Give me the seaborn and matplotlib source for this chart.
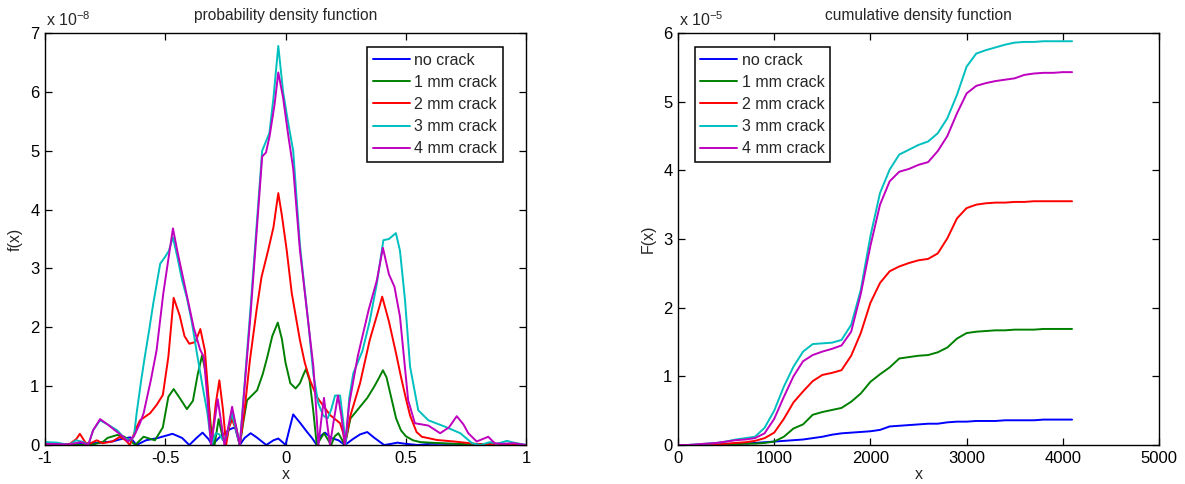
import pandas as pd
import matplotlib
matplotlib.use('Agg')
import matplotlib.pyplot as plt
import seaborn as sns

# Series names and MATLAB-like colours
labels = ['no crack', '1 mm crack', '2 mm crack', '3 mm crack', '4 mm crack']
colors = ['#0000ff', '#008000', '#ff0000', '#00bfbf', '#bf00bf']

# %% Probability density function (values in units of 1e-8)
no_crack_x = [-1, -0.9, -0.8, -0.72, -0.675, -0.645, -0.62, -0.58, -0.53, -0.47, -0.43, -0.4, -0.37, -0.345,
              -0.32, -0.305, -0.27, -0.23, -0.21, -0.19, -0.17, -0.145, -0.12, -0.08, -0.05, -0.03, -0.01, 0.0,
              0.015, 0.032, 0.06, 0.09, 0.11, 0.13, 0.145, 0.164, 0.19, 0.22, 0.247, 0.28, 0.31, 0.34, 0.37,
              0.41, 0.44, 0.465, 0.5, 0.55, 0.6, 0.7, 0.8, 0.9, 1.0]
no_crack_y = [0.02, 0.01, 0.03, 0.06, 0.11, 0.13, 0.0, 0.08, 0.12, 0.19, 0.12, 0.0, 0.12, 0.21,
              0.1, 0.0, 0.15, 0.27, 0.3, 0.0, 0.12, 0.2, 0.13, 0.0, 0.08, 0.11, 0.04, 0.0,
              0.25, 0.52, 0.38, 0.22, 0.12, 0.0, 0.15, 0.21, 0.12, 0.08, 0.0, 0.1, 0.18, 0.22, 0.12,
              0.0, 0.02, 0.04, 0.02, 0.0, 0.02, 0.02, 0.01, 0.02, 0.0]

crack1_x = [-1, -0.9, -0.85, -0.8, -0.76, -0.74, -0.7, -0.67, -0.647, -0.625, -0.59, -0.543, -0.51, -0.487,
            -0.465, -0.44, -0.41, -0.385, -0.365, -0.347, -0.33, -0.31, -0.295, -0.278, -0.265, -0.25, -0.235,
            -0.222, -0.205, -0.19, -0.175, -0.16, -0.118, -0.095, -0.076, -0.055, -0.032, -0.015, 0.0, 0.02,
            0.042, 0.06, 0.075, 0.085, 0.1, 0.115, 0.13, 0.145, 0.16, 0.175, 0.19, 0.205, 0.22, 0.247, 0.27,
            0.3, 0.34, 0.37, 0.39, 0.405, 0.42, 0.44, 0.46, 0.48, 0.5, 0.53, 0.56, 0.6, 0.7, 0.8, 0.9, 1.0]
crack1_y = [0.02, 0.01, 0.0, 0.01, 0.05, 0.12, 0.17, 0.14, 0.08, 0.0, 0.14, 0.08, 0.3, 0.82,
            0.95, 0.8, 0.61, 0.75, 1.2, 1.52, 1.2, 0.3, 0.0, 0.44, 0.2, 0.0, 0.3,
            0.56, 0.3, 0.0, 0.4, 0.76, 0.93, 1.2, 1.49, 1.85, 2.08, 1.8, 1.4, 1.05,
            0.96, 1.05, 1.2, 1.29, 1.1, 0.6, 0.0, 0.1, 0.2, 0.1, 0.0, 0.15, 0.2, 0.0, 0.45,
            0.6, 0.8, 1.0, 1.15, 1.27, 1.15, 0.8, 0.45, 0.25, 0.15, 0.08, 0.05, 0.04, 0.02, 0.01, 0.01, 0.0]

crack2_x = [-1, -0.9, -0.87, -0.855, -0.83, -0.81, -0.785, -0.76, -0.72, -0.688, -0.665, -0.647, -0.625,
            -0.605, -0.563, -0.536, -0.51, -0.487, -0.465, -0.44, -0.42, -0.4, -0.375, -0.354, -0.335, -0.32,
            -0.308, -0.29, -0.275, -0.26, -0.247, -0.235, -0.222, -0.205, -0.19, -0.17, -0.148, -0.12, -0.1,
            -0.072, -0.05, -0.03, -0.015, 0.005, 0.026, 0.06, 0.08, 0.102, 0.13, 0.16, 0.185, 0.227, 0.24,
            0.247, 0.27, 0.31, 0.35, 0.38, 0.402, 0.43, 0.46, 0.48, 0.5, 0.518, 0.545, 0.567, 0.63, 0.7,
            0.79, 0.85, 0.9, 1.0]
crack2_y = [0.02, 0.01, 0.1, 0.19, 0.03, 0.03, 0.08, 0.03, 0.06, 0.14, 0.08, 0.0, 0.25,
            0.42, 0.54, 0.68, 0.85, 1.5, 2.5, 2.2, 1.85, 1.72, 1.75, 1.97, 1.6, 0.8,
            0.0, 0.7, 1.1, 0.6, 0.0, 0.3, 0.43, 0.25, 0.0, 0.6, 1.44, 2.3, 2.85,
            3.31, 3.7, 4.28, 3.9, 3.31, 2.58, 1.78, 1.4, 1.1, 0.82, 0.65, 0.51, 0.37, 0.2,
            0.0, 0.5, 1.05, 1.78, 2.2, 2.52, 2.1, 1.55, 1.16, 0.8, 0.5, 0.22, 0.14, 0.085, 0.06,
            0.02, 0.01, 0.02, 0.0]

crack3_x = [-1, -0.95, -0.9, -0.87, -0.84, -0.82, -0.8, -0.771, -0.74, -0.7, -0.67, -0.645, -0.63, -0.619,
            -0.6, -0.585, -0.567, -0.55, -0.521, -0.5, -0.485, -0.468, -0.45, -0.43, -0.41, -0.39, -0.37,
            -0.345, -0.325, -0.308, -0.29, -0.275, -0.26, -0.245, -0.224, -0.205, -0.19, -0.146, -0.097,
            -0.067, -0.05, -0.03, -0.01, 0.01, 0.032, 0.06, 0.095, 0.116, 0.136, 0.157, 0.175, 0.19, 0.206,
            0.227, 0.24, 0.25, 0.265, 0.282, 0.32, 0.35, 0.38, 0.407, 0.43, 0.459, 0.476, 0.497, 0.518,
            0.552, 0.594, 0.664, 0.727, 0.776, 0.81, 0.85, 0.88, 0.92, 0.95, 1.0]
crack3_y = [0.05, 0.04, 0.0, 0.08, 0.05, 0.0, 0.25, 0.42, 0.35, 0.25, 0.12, 0.08, 0.15, 0.54,
            1.1, 1.5, 1.95, 2.4, 3.08, 3.2, 3.3, 3.53, 3.2, 2.8, 2.5, 2.1, 1.6,
            1.0, 0.55, 0.0, 0.2, 0.18, 0.08, 0.15, 0.55, 0.25, 0.0, 2.3, 5.0,
            5.3, 5.9, 6.78, 6.0, 5.5, 5.0, 3.4, 2.07, 1.2, 0.71, 0.5, 0.45, 0.6, 0.84,
            0.84, 0.4, 0.0, 0.8, 1.22, 1.6, 2.1, 2.75, 3.48, 3.5, 3.6, 3.3, 2.46, 1.33,
            0.59, 0.42, 0.31, 0.2, 0.03, 0.0, 0.05, 0.02, 0.07, 0.04, 0.0]

crack4_x = [-1, -0.9, -0.85, -0.82, -0.8, -0.771, -0.74, -0.7, -0.675, -0.655, -0.63, -0.605, -0.59, -0.56,
            -0.536, -0.508, -0.468, -0.45, -0.418, -0.382, -0.355, -0.34, -0.325, -0.31, -0.295, -0.282,
            -0.268, -0.254, -0.238, -0.222, -0.205, -0.19, -0.146, -0.097, -0.081, -0.066, -0.045, -0.03,
            -0.01, 0.01, 0.032, 0.06, 0.095, 0.116, 0.137, 0.148, 0.16, 0.172, 0.185, 0.2, 0.218, 0.232,
            0.247, 0.265, 0.3, 0.346, 0.38, 0.405, 0.43, 0.453, 0.476, 0.51, 0.538, 0.594, 0.643, 0.68,
            0.712, 0.74, 0.76, 0.795, 0.843, 0.87, 0.9, 0.95, 1.0]
crack4_y = [0.02, 0.01, 0.05, 0.0, 0.25, 0.44, 0.35, 0.22, 0.14, 0.06, 0.15, 0.37, 0.54, 1.1,
            1.61, 2.58, 3.68, 3.3, 2.69, 2.0, 1.62, 1.5, 0.8, 0.0, 0.4, 0.78,
            0.4, 0.0, 0.3, 0.65, 0.3, 0.0, 2.18, 4.9, 4.97, 5.25, 5.8, 6.33,
            5.9, 5.3, 4.7, 3.31, 2.07, 1.33, 0.0, 0.4, 0.8, 0.4, 0.0, 0.4, 0.84, 0.5,
            0.0, 0.7, 1.5, 2.3, 2.8, 3.35, 2.9, 2.69, 2.18, 0.76, 0.37, 0.33, 0.2, 0.3,
            0.49, 0.35, 0.2, 0.06, 0.14, 0.03, 0.02, 0.03, 0.0]

# %% Cumulative density function (values in units of 1e-5)
cdf_x = list(range(0, 4001, 100)) + [4096]
cdf_no_crack = [0, 0, 0, 0, 0.01, 0.01, 0.02, 0.02, 0.03, 0.04, 0.05, 0.06, 0.07, 0.08, 0.1, 0.12, 0.15,
                0.17, 0.18, 0.19, 0.2, 0.22, 0.27, 0.28, 0.29, 0.3, 0.31, 0.31, 0.33, 0.34, 0.34, 0.35,
                0.35, 0.35, 0.36, 0.36, 0.36, 0.36, 0.37, 0.37, 0.37, 0.37]
cdf_crack1 = [0, 0, 0, 0, 0.01, 0.01, 0.01, 0.02, 0.02, 0.03, 0.05, 0.12, 0.24, 0.3, 0.44, 0.48, 0.51,
              0.54, 0.63, 0.75, 0.92, 1.03, 1.13, 1.26, 1.28, 1.3, 1.31, 1.35, 1.42, 1.55, 1.63, 1.65,
              1.66, 1.67, 1.67, 1.68, 1.68, 1.68, 1.69, 1.69, 1.69, 1.69]
cdf_crack2 = [0, 0, 0, 0.01, 0.01, 0.02, 0.03, 0.04, 0.06, 0.1, 0.18, 0.38, 0.62, 0.78, 0.93, 1.02, 1.05,
              1.09, 1.3, 1.63, 2.07, 2.36, 2.53, 2.6, 2.65, 2.69, 2.71, 2.79, 3.01, 3.3, 3.45, 3.5,
              3.52, 3.53, 3.53, 3.54, 3.54, 3.55, 3.55, 3.55, 3.55, 3.55]
cdf_crack3 = [0, 0, 0.01, 0.02, 0.03, 0.05, 0.08, 0.1, 0.12, 0.25, 0.5, 0.85, 1.14, 1.36, 1.47, 1.48, 1.49,
              1.53, 1.75, 2.26, 3.04, 3.67, 4.01, 4.23, 4.3, 4.37, 4.42, 4.54, 4.76, 5.1, 5.51, 5.7,
              5.75, 5.79, 5.83, 5.86, 5.87, 5.87, 5.88, 5.88, 5.88, 5.88]
cdf_crack4 = [0, 0, 0.01, 0.02, 0.03, 0.05, 0.07, 0.08, 0.1, 0.17, 0.38, 0.7, 1.0, 1.22, 1.31, 1.36, 1.4,
              1.45, 1.65, 2.2, 2.9, 3.5, 3.84, 3.98, 4.02, 4.08, 4.12, 4.28, 4.5, 4.83, 5.12, 5.23,
              5.27, 5.3, 5.32, 5.34, 5.39, 5.41, 5.42, 5.42, 5.43, 5.43]

# Build long dataframes for seaborn
pdf_parts = []
for name, xs, ys in zip(labels, [no_crack_x, crack1_x, crack2_x, crack3_x, crack4_x],
                        [no_crack_y, crack1_y, crack2_y, crack3_y, crack4_y]):
    pdf_parts.append(pd.DataFrame({'x': xs, 'f': ys, 'series': name}))
pdf_df = pd.concat(pdf_parts, ignore_index=True)

cdf_parts = []
for name, ys in zip(labels, [cdf_no_crack, cdf_crack1, cdf_crack2, cdf_crack3, cdf_crack4]):
    cdf_parts.append(pd.DataFrame({'x': cdf_x, 'F': ys, 'series': name}))
cdf_df = pd.concat(cdf_parts, ignore_index=True)

# Style: plain MATLAB-like look
sns.set_style('white')
plt.rcParams['font.family'] = ['Liberation Sans', 'DejaVu Sans']
plt.rcParams['mathtext.fontset'] = 'custom'
plt.rcParams['mathtext.rm'] = 'Liberation Sans'
plt.rcParams['mathtext.it'] = 'Liberation Sans:italic'
plt.rcParams['axes.unicode_minus'] = False
plt.rcParams['lines.solid_joinstyle'] = 'round'

fig = plt.figure(figsize=(11.85, 4.84), dpi=100)
ax1 = fig.add_axes([45 / 1185, 39 / 484, 481 / 1185, 412 / 484])
ax2 = fig.add_axes([678 / 1185, 39 / 484, 481 / 1185, 412 / 484])

sns.lineplot(data=pdf_df, x='x', y='f', hue='series', hue_order=labels, palette=colors,
             estimator=None, sort=False, lw=1.4, ax=ax1)
sns.lineplot(data=cdf_df, x='x', y='F', hue='series', hue_order=labels, palette=colors,
             estimator=None, sort=False, lw=1.4, ax=ax2)

# Axis limits, ticks and labels
ax1.set_xlim(-1, 1)
ax1.set_ylim(0, 7)
ax1.set_xticks([-1, -0.5, 0, 0.5, 1])
ax1.set_xticklabels(['-1', '-0.5', '0', '0.5', '1'])
ax1.set_yticks(range(8))
ax1.set_title('probability density function', fontsize=11.2, pad=9)
ax1.set_xlabel('x', fontsize=11.5, labelpad=1)
ax1.set_ylabel('f(x)', fontsize=11.5, labelpad=5)
ax1.text(0.003, 1.01, r'x 10$^{-8}$', transform=ax1.transAxes, ha='left', va='bottom', fontsize=11.5)

ax2.set_xlim(0, 5000)
ax2.set_ylim(0, 6)
ax2.set_xticks(range(0, 5001, 1000))
ax2.set_yticks(range(7))
ax2.set_title('cumulative density function', fontsize=11.2, pad=9)
ax2.set_xlabel('x', fontsize=11.5, labelpad=1)
ax2.set_ylabel('F(x)', fontsize=11.5, labelpad=5)
ax2.text(0.003, 1.01, r'x 10$^{-5}$', transform=ax2.transAxes, ha='left', va='bottom', fontsize=11.5)

for ax in [ax1, ax2]:
    ax.tick_params(direction='in', length=5, width=0.9, top=True, right=True, bottom=True, left=True,
                   labelsize=12, colors='black', pad=4)
    for spine in ax.spines.values():
        spine.set_color('black')
        spine.set_linewidth(1.0)
    ax.grid(False)

# Legends with square black frames
h1, l1 = ax1.get_legend_handles_labels()
ax1.legend(h1, l1, loc='upper right', bbox_to_anchor=(0.952, 0.966), borderaxespad=0, fontsize=11.5,
           frameon=True, fancybox=False, framealpha=1, edgecolor='black', handlelength=2.3,
           handletextpad=0.3, labelspacing=0.45, borderpad=0.35).get_frame().set_linewidth(1.1)
h2, l2 = ax2.get_legend_handles_labels()
ax2.legend(h2, l2, loc='upper left', bbox_to_anchor=(0.035, 0.966), borderaxespad=0, fontsize=11.5,
           frameon=True, fancybox=False, framealpha=1, edgecolor='black', handlelength=2.3,
           handletextpad=0.3, labelspacing=0.45, borderpad=0.35).get_frame().set_linewidth(1.1)

plt.savefig('out.png', dpi=100)
